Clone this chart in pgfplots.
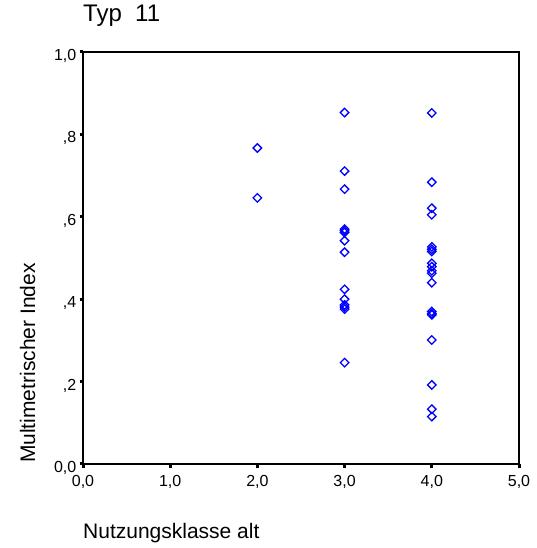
\documentclass[border=0pt]{standalone}
\usepackage{fontspec}
\setmainfont{Liberation Sans}
\usepackage{pgfplots}
\pgfplotsset{compat=1.18}

\pgfplotstableread{
x y
2 0.767
2 0.646
3 0.853
3 0.711
3 0.667
3 0.570
3 0.566
3 0.562
3 0.542
3 0.514
3 0.424
3 0.400
3 0.386
3 0.381
3 0.376
3 0.246
4 0.852
4 0.684
4 0.621
4 0.605
4 0.527
4 0.521
4 0.516
4 0.487
4 0.479
4 0.469
4 0.463
4 0.440
4 0.370
4 0.365
4 0.362
4 0.301
4 0.192
4 0.133
4 0.115
}\typelf

\begin{document}
\begin{tikzpicture}
\useasboundingbox (0,0) rectangle (537pt,548pt);
\begin{axis}[
  at={(83pt,84pt)}, anchor=south west,
  scale only axis, width=436pt, height=412pt,
  xmin=0, xmax=5, ymin=0, ymax=1,
  xtick={0,1,2,3,4,5},
  xticklabels={{0,0},{1,0},{2,0},{3,0},{4,0},{5,0}},
  ytick={0,0.2,0.4,0.6,0.8,1},
  yticklabels={{0,0},{,2},{,4},{,6},{,8},{1,0}},
  axis line style={line width=1.6pt},
  tick align=outside, major tick length=3.5pt,
  tick style={line width=3pt, black},
  xtick pos=bottom, ytick pos=left,
  tick label style={font=\fontsize{16}{19}\selectfont, inner sep=0pt},
  xticklabel shift=7.5pt,
  yticklabel shift=3pt,
  yticklabel style={yshift=-4pt},
  title={Typ\ \ 11},
  title style={at={(axis description cs:0,1)}, anchor=base west, inner sep=0pt,
    yshift=24pt, font=\fontsize{24}{28}\selectfont},
  xlabel={Nutzungsklasse alt},
  xlabel style={at={(axis description cs:0,0)}, anchor=base west, inner sep=0pt,
    yshift=-74pt, font=\fontsize{21}{25}\selectfont},
  ylabel={Multimetrischer Index},
  ylabel style={at={(axis description cs:-0.110,0.002)}, anchor=base west,
    inner sep=0pt, font=\fontsize{21}{25}\selectfont},
  clip=false,
]
\addplot[only marks, color={rgb,255:red,0;green,0;blue,255},
  mark=square, mark size=3pt,
  mark options={rotate=45, line width=1.3pt}]
  table[x=x, y=y] {\typelf};
\end{axis}
\end{tikzpicture}
\end{document}
